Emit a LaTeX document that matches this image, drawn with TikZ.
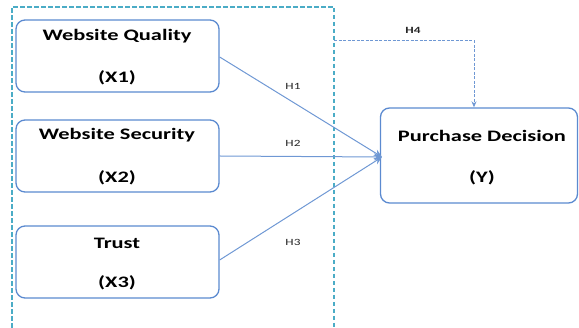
\documentclass[tikz,border=0pt]{standalone}
\usepackage{fontspec}
\setmainfont{Carlito}
\usetikzlibrary{arrows.meta}
\definecolor{boxblue}{HTML}{5B8AD0}
\definecolor{linkblue}{HTML}{6F98D4}
\definecolor{frameteal}{HTML}{4BACC6}
\tikzset{
  varbox/.style={draw=boxblue, line width=1.3pt, rounded corners=9pt, inner sep=0pt},
  vartext/.style={font=\bfseries\fontsize{16}{18}\selectfont},
  link/.style={draw=linkblue, line width=1pt, -{Stealth[length=8pt,width=7pt]}},
  hlabel/.style={font=\fontsize{9.5}{11}\selectfont, text=black!85},
}
\newcommand{\wide}[1]{\scalebox{1.4}[1]{#1}}
\begin{document}
\begin{tikzpicture}[x=1pt,y=-1pt]
\useasboundingbox (0,0) rectangle (579,328);
% dashed frame around the independent variables
\draw[frameteal, line width=1.7pt, dash pattern=on 4.5pt off 2.5pt] (12,335) -- (12,7) -- (334,7) -- (334,335);
% independent variable boxes
\node[varbox, minimum width=203pt, minimum height=72pt] (x1) at (117.5,56) {};
\node[varbox, minimum width=203pt, minimum height=72pt] (x2) at (117.5,156) {};
\node[varbox, minimum width=203pt, minimum height=72pt] (x3) at (117.5,262) {};
\node[vartext] (x1a) at (117,36) {\wide{Website Quality}};
\node[vartext] (x1b) at (117,78) {\wide{(X1)}};
\node[vartext] (x2a) at (117,135) {\wide{Website Security}};
\node[vartext] (x2b) at (117,178) {\wide{(X2)}};
\node[vartext] (x3a) at (117,243) {\wide{Trust}};
\node[vartext] (x3b) at (117,283) {\wide{(X3)}};
% dependent variable
\node[varbox, minimum width=197pt, minimum height=95pt] (y) at (479,155.5) {};
\node[vartext] (ya) at (482,136) {\wide{Purchase Decision}};
\node[vartext] (yb) at (482,178) {\wide{(Y)}};
% hypotheses
\coordinate (tip) at (382,157);
\draw[link] (x1.east |- 0,57) -- (tip);
\draw[link] (x2.east) -- (tip);
\draw[link] (x3.east |- 0,260) -- (tip);
\node[hlabel] (h1) at (293,86) {\wide{H1}};
\node[hlabel] (h2) at (293,143) {\wide{H2}};
\node[hlabel] (h3) at (293,242) {\wide{H3}};
\coordinate (h4start) at (334,41);
\coordinate (h4turn) at (474,41);
\draw[draw=linkblue, line width=1pt, dash pattern=on 3pt off 1.5pt, -{Stealth[length=6pt,width=5pt]}] (h4start) -- (h4turn) -- (h4turn |- y.north);
\node[hlabel, font=\bfseries\fontsize{9.5}{11}\selectfont] (h4) at (413,30) {\wide{H4}};
\end{tikzpicture}
\end{document}
